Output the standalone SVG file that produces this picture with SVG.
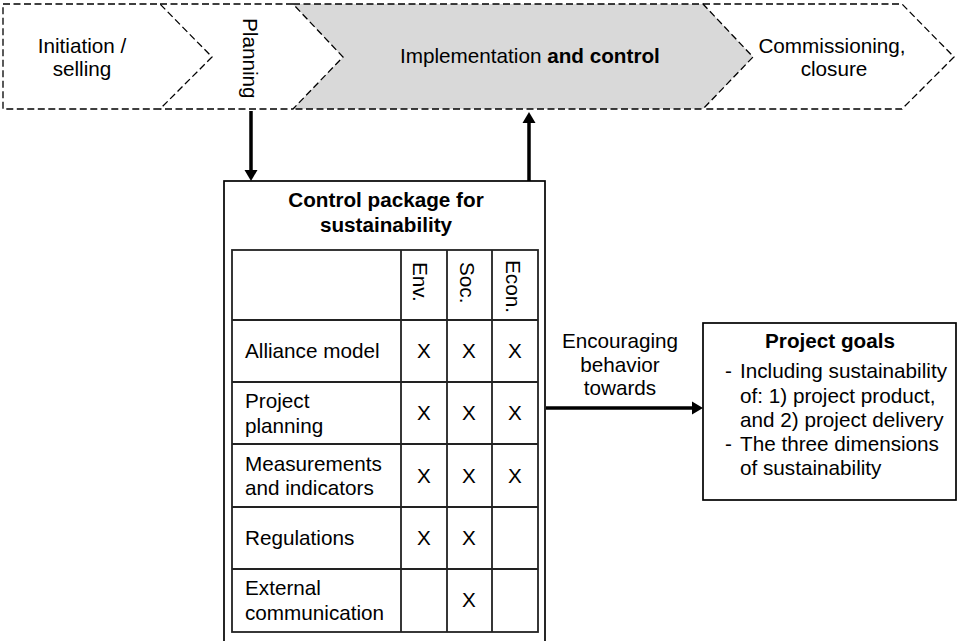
<svg xmlns="http://www.w3.org/2000/svg" width="958" height="641" viewBox="0 0 958 641">
<style>
text{font-family:"Liberation Sans",Arial,sans-serif;font-size:20.7px;fill:#000}
.b{font-weight:bold}
.m{text-anchor:middle}
.dash{fill:none;stroke:#000;stroke-width:1.3;stroke-dasharray:7 3.5}
.box{fill:#fff;stroke:#000;stroke-width:1.7}
.grid{fill:none;stroke:#222;stroke-width:1.8}
.arr{fill:none;stroke:#000;stroke-width:3.5}
</style>
<defs>
<marker id="ah" markerWidth="14" markerHeight="14" refX="3" refY="7" orient="auto" markerUnits="userSpaceOnUse"><path d="M0,0.5 L11,7 L0,13.5 Z" fill="#000"/></marker>
</defs>
<rect width="958" height="641" fill="#fff"/>
<g id="implementation">
<path d="M293,4 L703,4 L753,57 L703,109 L293,109 L343,57 Z" fill="#d9d9d9"/>
<path class="dash" d="M293,4 L703,4 L753,57 L703,109 L293,109"/>
<text x="400" y="63">Implementation <tspan class="b">and control</tspan></text>
</g>
<g id="initiation">
<path class="dash" d="M3,4 L160,4 L212,57 L160,109 L3,109 Z"/>
<text class="m" x="82" y="53">Initiation /</text>
<text class="m" x="82" y="76">selling</text>
</g>
<g id="planning">
<path class="dash" d="M160,4 L293,4 L343,57 L293,109 L160,109"/>
<text transform="translate(243,18) rotate(90)">Planning</text>
</g>
<g id="commissioning">
<path class="dash" d="M703,4 L902,4 L954,57 L902,109 L703,109"/>
<text class="m" x="832" y="53">Commissioning,</text>
<text class="m" x="834" y="76">closure</text>
</g>
<g id="control-package">
<rect class="box" x="224" y="181" width="321" height="480"/>
<text class="m b" x="386" y="207">Control package for</text>
<text class="m b" x="386" y="232">sustainability</text>
<rect class="grid" x="232" y="250" width="306" height="382"/>
<path class="grid" d="M401,250 V632 M447,250 V632 M492,250 V632 M232,320 H538 M232,382 H538 M232,444 H538 M232,507 H538 M232,569 H538"/>
<text transform="translate(413,262) rotate(90)">Env.</text>
<text transform="translate(460,262) rotate(90)">Soc.</text>
<text transform="translate(506,260) rotate(90)">Econ.</text>
<text x="245" y="358">Alliance model</text>
<text x="245" y="408">Project</text>
<text x="245" y="433">planning</text>
<text x="245" y="471">Measurements</text>
<text x="245" y="495">and indicators</text>
<text x="245" y="545">Regulations</text>
<text x="245" y="595">External</text>
<text x="245" y="620">communication</text>
<g class="m">
<text x="424" y="358">X</text><text x="469" y="358">X</text><text x="515" y="358">X</text>
<text x="424" y="420">X</text><text x="469" y="420">X</text><text x="515" y="420">X</text>
<text x="424" y="483">X</text><text x="469" y="483">X</text><text x="515" y="483">X</text>
<text x="424" y="545">X</text><text x="469" y="545">X</text>
<text x="469" y="607">X</text>
</g>
</g>
<g id="project-goals">
<rect class="box" x="703" y="323" width="253" height="177"/>
<text class="m b" x="830" y="348">Project goals</text>
<text x="725" y="378">-</text>
<text x="740" y="378">Including sustainability</text>
<text x="740" y="403">of: 1) project product,</text>
<text x="740" y="427">and 2) project delivery</text>
<text x="725" y="451">-</text>
<text x="740" y="451">The three dimensions</text>
<text x="740" y="475">of sustainability</text>
</g>
<g id="connectors">
<path class="arr" d="M251,111 L251,173" marker-end="url(#ah)"/>
<path class="arr" d="M529,181 L529,120" marker-end="url(#ah)"/>
<path class="arr" d="M546,408 L695,408" marker-end="url(#ah)"/>
<text class="m" x="620" y="348">Encouraging</text>
<text class="m" x="620" y="372">behavior</text>
<text class="m" x="620" y="395">towards</text>
</g>
</svg>
